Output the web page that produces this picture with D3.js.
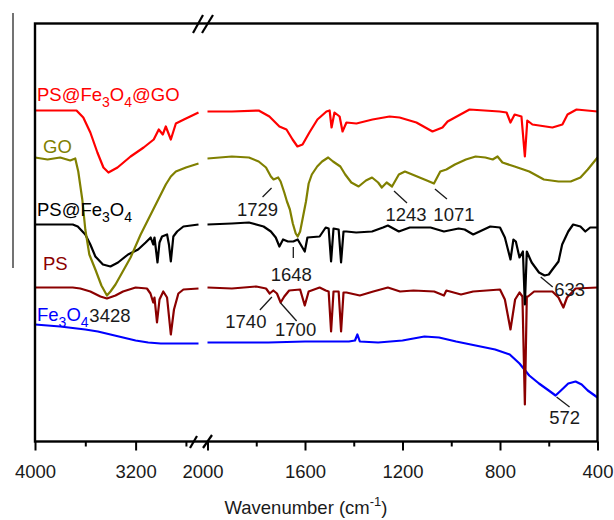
<!DOCTYPE html>
<html>
<head>
<meta charset="utf-8">
<script src="https://cdn.jsdelivr.net/npm/d3@7"></script>
<style>
  body { margin: 0; background: #fff; }
  svg { display: block; font-family: 'Liberation Sans', Arial, sans-serif; }
</style>
</head>
<body>
<svg id="chart" width="614" height="520"></svg>
<script>
const seriesNames = ['PS@Fe3O4@GO', 'GO', 'PS@Fe3O4', 'PS', 'Fe3O4'];
const seriesColors = ['#ff0000', '#808000', '#000000', '#8b0000', '#0000ff'];

// [wavenumber, transmittance a.u.]
const psFe3O4GO = [
  [4000, 331], [3670, 331], [3616, 324], [3560, 309], [3504, 289], [3456, 274], [3416, 269], [3344, 274],
  [3240, 285], [3136, 294], [3056, 302], [3016, 312], [2984, 307], [2960, 315], [2920, 302], [2880, 318],
  [2816, 322], [2700, 329],
  [2000, 330], [1900, 330], [1790, 331], [1746, 325], [1705, 315], [1676, 312], [1651, 302], [1631, 295],
  [1610, 297], [1582, 309], [1549, 322], [1512, 330], [1499, 331], [1491, 314], [1479, 329], [1458, 325],
  [1446, 310], [1430, 319], [1389, 318], [1323, 322], [1253, 325], [1212, 324], [1143, 319], [1077, 310],
  [1036, 314], [1015, 320], [925, 332], [802, 330], [773, 329], [757, 319], [740, 327], [712, 325],
  [698, 285], [688, 321], [667, 317], [585, 314], [544, 317], [523, 327], [486, 332], [400, 330],
];

const go = [
  [4000, 284], [3900, 282], [3800, 284], [3720, 281], [3680, 283], [3656, 270], [3624, 242], [3600, 212],
  [3568, 187], [3520, 172], [3472, 156], [3428, 146], [3400, 150], [3360, 157], [3320, 166], [3240, 184],
  [3160, 207], [3080, 227], [3040, 237], [3000, 247], [2960, 257], [2920, 265], [2880, 270], [2800, 274],
  [2700, 278],
  [2000, 283], [1900, 285], [1830, 284], [1790, 280], [1760, 274], [1740, 265], [1729, 262], [1710, 264],
  [1700, 260], [1685, 249], [1674, 240], [1662, 232], [1650, 218], [1638, 208], [1630, 205], [1620, 210],
  [1608, 225], [1596, 240], [1585, 258], [1572, 267], [1550, 275], [1530, 280], [1505, 284], [1485, 280],
  [1455, 275], [1435, 267], [1410, 259], [1380, 255], [1350, 261], [1325, 264], [1300, 259], [1285, 254],
  [1265, 259], [1243, 255], [1215, 267], [1190, 270], [1150, 266], [1100, 261], [1071, 258], [1045, 270],
  [1020, 272], [985, 277], [940, 282], [900, 285], [860, 284], [830, 282], [810, 285], [790, 279],
  [740, 275], [680, 270], [620, 262], [560, 260], [510, 260], [470, 264], [440, 272], [400, 284],
];

const psFe3O4 = [
  [4000, 217], [3700, 217], [3660, 215], [3600, 207], [3560, 197], [3520, 185], [3460, 177], [3400, 175],
  [3340, 179], [3260, 187], [3180, 192], [3120, 199], [3080, 204], [3060, 197], [3050, 204], [3026, 179],
  [3010, 199], [2990, 205], [2950, 207], [2935, 197], [2920, 180], [2900, 205], [2870, 210], [2820, 215],
  [2700, 217],
  [2000, 217], [1900, 218], [1830, 219], [1770, 215], [1740, 210], [1720, 204], [1705, 195], [1690, 202],
  [1670, 200], [1648, 200], [1630, 202], [1601, 190], [1590, 204], [1540, 205], [1515, 214], [1503, 213],
  [1493, 180], [1483, 213], [1462, 212], [1452, 179], [1442, 210], [1430, 210], [1390, 209], [1325, 210],
  [1280, 214], [1260, 216], [1215, 210], [1170, 214], [1085, 214], [1030, 210], [970, 213], [945, 212],
  [910, 207], [840, 215], [800, 214], [780, 204], [757, 182], [745, 202], [735, 200], [720, 184],
  [706, 190], [698, 137], [690, 190], [670, 179], [640, 169], [617, 166], [600, 167], [585, 172],
  [560, 180], [545, 197], [520, 210], [500, 217], [470, 215], [450, 210], [430, 214], [400, 214],
];

const ps = [
  [4000, 154], [3700, 154], [3640, 153], [3560, 150], [3480, 145], [3428, 143], [3360, 146], [3300, 150],
  [3200, 154], [3110, 153], [3082, 148], [3060, 139], [3050, 144], [3030, 119], [3010, 142], [2980, 150],
  [2950, 144], [2920, 107], [2895, 132], [2860, 148], [2820, 152], [2700, 153],
  [2000, 154], [1900, 153], [1800, 155], [1760, 153], [1745, 148], [1730, 151], [1715, 148], [1700, 139],
  [1685, 145], [1665, 151], [1620, 152], [1601, 136], [1585, 150], [1540, 154], [1515, 151], [1503, 150],
  [1493, 110], [1483, 150], [1462, 150], [1452, 110], [1442, 149], [1430, 149], [1375, 146], [1320, 150],
  [1260, 154], [1210, 150], [1155, 151], [1070, 150], [1030, 146], [1020, 151], [960, 147], [910, 150],
  [800, 152], [780, 142], [757, 112], [738, 142], [720, 149], [708, 145], [698, 37], [690, 145],
  [685, 145], [660, 150], [585, 150], [560, 144], [540, 134], [525, 144], [490, 153], [400, 154],
];

const fe3O4 = [
  [4000, 117], [3800, 115], [3600, 112], [3500, 110], [3400, 107], [3300, 104], [3200, 101], [3100, 99],
  [3000, 98], [2700, 98],
  [2000, 99], [1750, 99], [1600, 100], [1420, 100], [1395, 101], [1385, 107], [1375, 100], [1300, 99],
  [1200, 101], [1110, 105], [1050, 104], [980, 100], [900, 96], [820, 92], [760, 87], [720, 78],
  [680, 66], [640, 58], [600, 51], [572, 46], [550, 51], [520, 58], [490, 60], [465, 57],
  [440, 51], [400, 44],
];

const seriesData = [psFe3O4GO, go, psFe3O4, ps, fe3O4];

const leftMajorTicks = [4000, 3200];
const leftMinorTicks = [3600, 2800];
const rightMajorTicks = [2000, 1600, 1200, 800, 400];
const rightMinorTicks = [1800, 1400, 1000, 600];

const annotationLabels = ['1729', '1648', '1243', '1071', '1740', '1700', '633', '572', '3428'];
const annotationWavenumbers = [1729, 1648, 1243, 1071, 1740, 1700, 633, 572, 3428];
const annotationValues = [253.5, 194.5, 250.5, 252.5, 144.5, 138.5, 164.5, 44.5, 143];

// leader [dx1, dy1, dx2, dy2] and text [dx, dy] in px from the anchor
const leaderOffsets = [
  [-2, 0, -11, 9], [0, 0, 0, 11], [2, 0, 15, 12], [1, 0, 13, 10],
  [1, 0, -11, 13], [0, 0, 16, 18], [0, 0, 12, 10], [1, 0, 14, 10], null,
];
const textOffsets = [[-16, 28], [-2, 34], [14, 30], [20, 32], [-25, 31], [15, 33], [29, 19], [9, 27], [3, 23.5]];
const labelOffsets = [[2, -9.5], [8, -5], [2, -9], [8, -18], [2, -4]];

const svg = d3.select('#chart');
const fontSize = 18.5;

const y = d3.scaleLinear().domain([0, 418]).range([441.5, 23.5]);
const xLeft = d3.scaleLinear().domain([4000, 2700]).range([35, 198.5]);
const xRight = d3.scaleLinear().domain([2000, 400]).range([207.5, 597.5]);
const xOf = (w) => (w > 2350 ? xLeft(w) : xRight(w));

// stray rule on the left edge of the original figure
svg.append('line')
  .attr('x1', 13).attr('x2', 13)
  .attr('y1', 13).attr('y2', 268)
  .attr('stroke', '#444')
  .attr('stroke-width', 1.5);

const line = d3.line()
  .x((d) => xOf(d[0]))
  .y((d) => y(d[1]));

[4, 3, 2, 1, 0].forEach((i) => {
  const points = seriesData[i];
  [points.filter((d) => d[0] > 2350), points.filter((d) => d[0] <= 2350)].forEach((segment) => {
    svg.append('path')
      .datum(segment)
      .attr('d', line)
      .attr('fill', 'none')
      .attr('stroke', seriesColors[i])
      .attr('stroke-width', 2.2)
      .attr('stroke-linejoin', 'round');
  });
});

// frame
svg.append('rect')
  .attr('x', xLeft(4000))
  .attr('y', y(418))
  .attr('width', xRight(400) - xLeft(4000))
  .attr('height', y(0) - y(418))
  .attr('fill', 'none')
  .attr('stroke', '#000')
  .attr('stroke-width', 2.4);

const axisLayer = svg.append('g').attr('transform', `translate(0,${y(0)})`);

const drawTicks = (scale, values, size, labelled) => {
  const axis = d3.axisBottom(scale)
    .tickValues(values)
    .tickSize(size)
    .tickPadding(14)
    .tickFormat(labelled ? d3.format('d') : () => '');
  const g = axisLayer.append('g').call(axis)
    .attr('font-family', null)
    .attr('font-size', fontSize);
  g.select('.domain').remove();
  g.selectAll('.tick line').attr('stroke', '#000').attr('stroke-width', 2);
  g.selectAll('.tick text').attr('fill', '#1a1a1a');
  return g;
};

drawTicks(xLeft, leftMajorTicks, 9, true);
drawTicks(xLeft, leftMinorTicks, 5, false);
drawTicks(xRight, rightMajorTicks, 9, true)
  .selectAll('.tick text')
  .filter((d) => d === 2000)
  .attr('x', -5);
drawTicks(xRight, rightMinorTicks, 5, false);

// axis break marks
const breakX = (xLeft(2700) + xRight(2000)) / 2;
const breakMarks = [
  [breakX - 10, y(418) + 9.5, breakX, y(418) - 8.5],
  [breakX - 1, y(418) + 9.5, breakX + 10, y(418) - 8.5],
  [breakX - 13, y(0) + 6.5, breakX - 6, y(0) - 5.5],
  [breakX, y(0) + 6.5, breakX + 9, y(0) - 6.5],
];
svg.selectAll('.break')
  .data(breakMarks)
  .enter()
  .append('line')
  .attr('x1', (d) => d[0]).attr('y1', (d) => d[1])
  .attr('x2', (d) => d[2]).attr('y2', (d) => d[3])
  .attr('stroke', '#000')
  .attr('stroke-width', 2.2);

// axis title
const title = svg.append('text')
  .attr('x', 306)
  .attr('y', 514)
  .attr('text-anchor', 'middle')
  .attr('font-size', fontSize)
  .attr('fill', '#1a1a1a')
  .text('Wavenumber (cm');
title.append('tspan').attr('font-size', 13).attr('dy', -8).text('-1');
title.append('tspan').attr('dy', 8).text(')');

// series labels with subscripts
seriesNames.forEach((name, i) => {
  const first = seriesData[i][0];
  const label = svg.append('text')
    .attr('x', xLeft(first[0]) + labelOffsets[i][0])
    .attr('y', y(first[1]) + labelOffsets[i][1])
    .attr('font-size', fontSize)
    .attr('fill', seriesColors[i]);
  let shifted = false;
  name.split(/(\d)/).filter(Boolean).forEach((part) => {
    const isSub = /\d/.test(part);
    const tspan = label.append('tspan').text(part);
    if (isSub) {
      tspan.attr('font-size', 14).attr('dy', 6);
      shifted = true;
    } else if (shifted) {
      tspan.attr('dy', -6);
      shifted = false;
    }
  });
});

// band annotations
annotationLabels.forEach((text, i) => {
  const ax = xOf(annotationWavenumbers[i]);
  const ay = y(annotationValues[i]);
  const leader = leaderOffsets[i];
  if (leader) {
    svg.append('line')
      .attr('x1', ax + leader[0]).attr('y1', ay + leader[1])
      .attr('x2', ax + leader[2]).attr('y2', ay + leader[3])
      .attr('stroke', '#1a1a1a')
      .attr('stroke-width', 1.3);
  }
  svg.append('text')
    .attr('x', ax + textOffsets[i][0])
    .attr('y', ay + textOffsets[i][1])
    .attr('text-anchor', 'middle')
    .attr('font-size', fontSize)
    .attr('fill', '#1a1a1a')
    .text(text);
});
</script>
</body>
</html>
